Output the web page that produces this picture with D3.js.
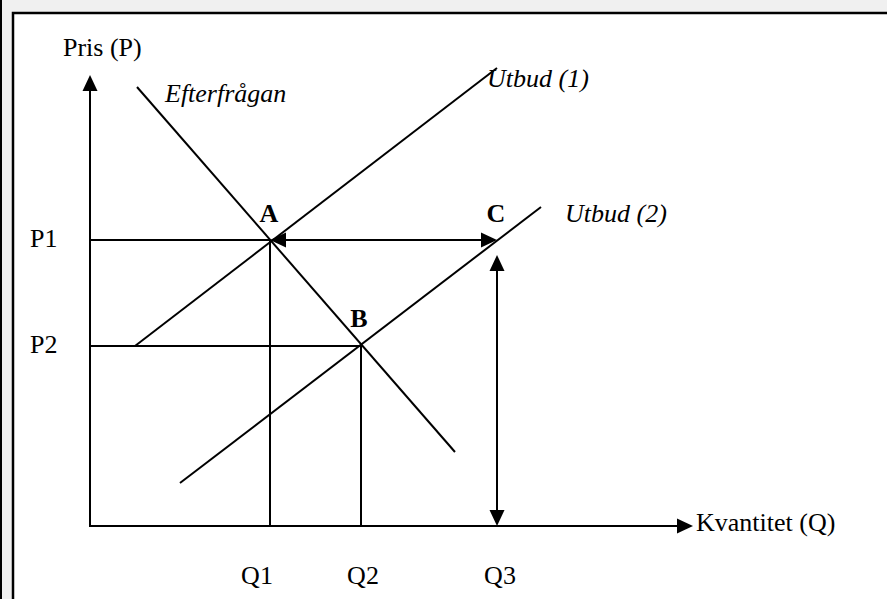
<!DOCTYPE html>
<html><head><meta charset="utf-8">
<script src="https://cdn.jsdelivr.net/npm/d3@7"></script>
<style>
html,body{margin:0;padding:0;background:#f0f0f0;overflow:hidden}
svg{display:block}
</style></head>
<body>
<script>
// Data (units: abstract quantity / price)
const axisMax = {q: 60.3, p: 45.1};
const quantities = [{name:"Q1", q:18.0}, {name:"Q2", q:27.1}, {name:"Q3", q:40.7}];
const prices = [{name:"P1", p:28.6}, {name:"P2", p:18.0}];
const demand = [[4.7, 43.9], [36.5, 7.4]];
const supply1 = [[4.5, 18.0], [40.7, 45.8]];
const supply2 = [[9.0, 4.3], [45.1, 31.9]];
const points = [{name:"A", q:18.0, p:28.6}, {name:"B", q:27.1, p:18.0}, {name:"C", q:40.7, p:28.6}];
const curveLabels = [{text:"Efterfrågan", q:7.5, p:42.4}, {text:"Utbud (1)", q:39.7, p:43.9}, {text:"Utbud (2)", q:47.5, p:30.4}];

const W = 887, H = 599;
const svg = d3.select("body").append("svg").attr("width", W).attr("height", H);
svg.append("rect").attr("x",0).attr("y",0).attr("width",W).attr("height",H).attr("fill","#f0f0f0");
svg.append("rect").attr("x",0).attr("y",0).attr("width",2).attr("height",H).attr("fill","#000");
svg.append("rect").attr("x",13).attr("y",13).attr("width",W+10).attr("height",H+10)
  .attr("fill","#fff").attr("stroke","#000").attr("stroke-width",2.5);

const x = d3.scaleLinear().domain([0, axisMax.q]).range([90, 693]);
const y = d3.scaleLinear().domain([0, axisMax.p]).range([526, 75]);

const g = svg.append("g");
const font = "'Liberation Serif','Times New Roman',serif";
const AL = 16, AW = 7.5, FS = 26;

function line(x1,y1,x2,y2){
  g.append("line").attr("x1",x1).attr("y1",y1).attr("x2",x2).attr("y2",y2)
    .attr("stroke","#000").attr("stroke-width",2);
}
// arrow from (x1,y1) to tip (x2,y2)
function arrowHead(x1,y1,x2,y2){
  const dx=x2-x1, dy=y2-y1, L=Math.hypot(dx,dy), ux=dx/L, uy=dy/L;
  const bx=x2-ux*AL, by=y2-uy*AL;
  g.append("path").attr("d",`M${x2},${y2}L${bx-uy*AW},${by+ux*AW}L${bx+uy*AW},${by-ux*AW}Z`).attr("fill","#000");
  return [bx,by];
}
function arrow(x1,y1,x2,y2,both){
  let s=[x1,y1], e=[x2,y2];
  e = arrowHead(x1,y1,x2,y2);
  if(both) s = arrowHead(x2,y2,x1,y1);
  line(s[0],s[1],e[0]+(x2-x1?Math.sign(x2-x1)*2:0),e[1]+(y2-y1?Math.sign(y2-y1)*2:0));
}

// axes
arrow(x(0), y(0)+1, x(0), y(axisMax.p));
arrow(x(0)-1, y(0), x(axisMax.q), y(0));

// price lines
const A = points[0], B = points[1], C = points[2];
line(x(0), y(prices[0].p), x(A.q), y(prices[0].p));
line(x(0), y(prices[1].p), x(B.q), y(prices[1].p));
// quantity lines
line(x(quantities[0].q), y(prices[0].p), x(quantities[0].q), y(0));
line(x(quantities[1].q), y(prices[1].p), x(quantities[1].q), y(0));
// double arrows
arrow(x(A.q), y(A.p), x(C.q), y(C.p), true);
arrow(x(quantities[2].q), y(0), x(quantities[2].q), y(27.1), true);

// curves
[demand, supply1, supply2].forEach(c => line(x(c[0][0]), y(c[0][1]), x(c[1][0]), y(c[1][1])));

// texts
function text(t, px, py, opts={}){
  g.append("text").attr("x",px).attr("y",py).text(t)
    .attr("font-family",font).attr("font-size",opts.size||FS)
    .attr("font-style",opts.italic?"italic":"normal")
    .attr("font-weight",opts.bold?"bold":"normal")
    .attr("text-anchor",opts.anchor||"start").attr("fill","#000");
}
text("Pris (P)", 63, 56);
text("Kvantitet (Q)", 696, 531);
prices.forEach(d => text(d.name, 30, y(d.p)+7));
const qLabelX = {Q1:257, Q2:363, Q3:500};
quantities.forEach(d => text(d.name, qLabelX[d.name], 584, {anchor:"middle"}));
const ptOff = {A:[-1,-18], B:[-2,-19], C:[-1,-18]};
points.forEach(d => text(d.name, x(d.q)+ptOff[d.name][0], y(d.p)+ptOff[d.name][1], {bold:true, anchor:"middle"}));
curveLabels.forEach(d => text(d.text, x(d.q), y(d.p), {italic:true}));
</script>
</body></html>
